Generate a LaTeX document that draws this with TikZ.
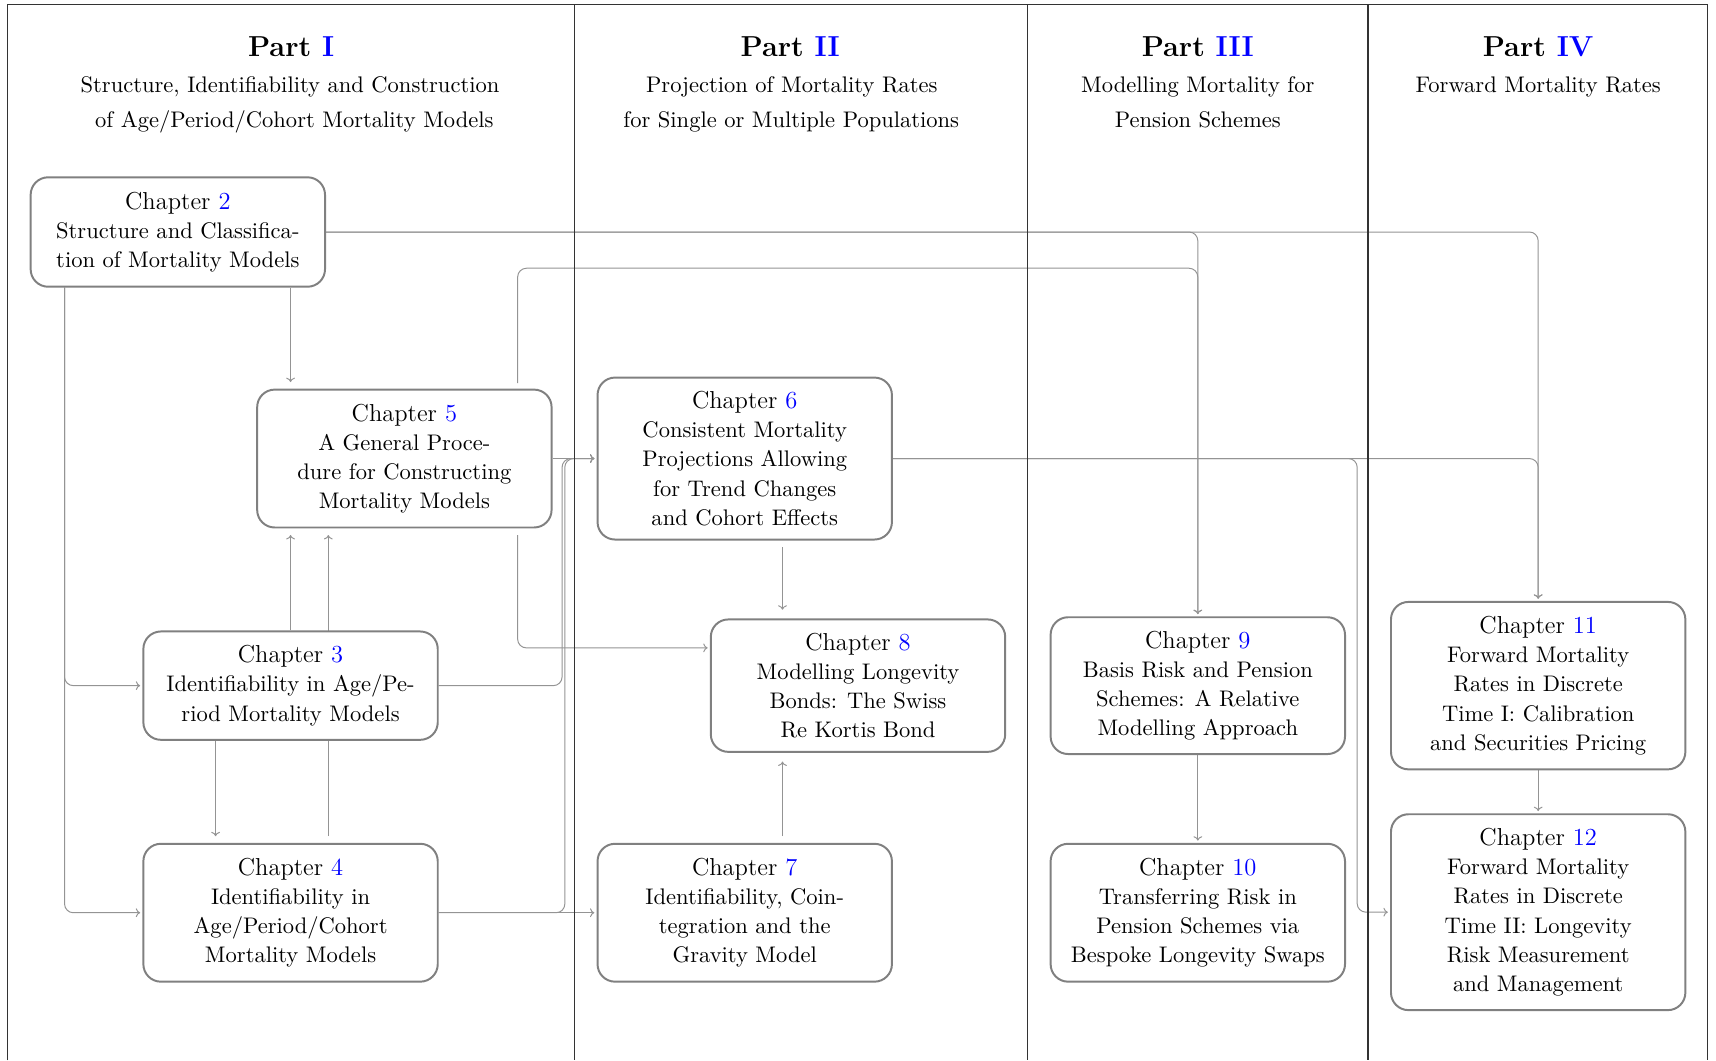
\documentclass[tikz,border=0pt]{standalone}
\usetikzlibrary{arrows.meta,calc}
\pgfdeclarelayer{background}
\pgfsetlayers{background,main}
\definecolor{boxgray}{gray}{0.5}
\definecolor{linegray}{gray}{0.58}
\definecolor{framegray}{gray}{0.2}
\definecolor{numblue}{rgb}{0,0,1}
\newcommand\chapline[1]{{\fontsize{11.2}{13.35}\selectfont Chapter \textcolor{numblue}{#1}}}
\begin{document}
\begin{tikzpicture}[x=0.5pt,y=-0.5pt,
  chap/.style={draw=boxgray, line width=0.9pt, rounded corners=8pt, fill=white,
    minimum width=134.5pt, align=center, inner sep=2pt,
    font=\fontsize{10.3}{13.35}\selectfont},
  conn/.style={draw=linegray, line width=0.45pt, rounded corners=4pt},
  arr/.style={conn, -{To[length=2pt,width=4pt]}},
  parttitle/.style={anchor=base, inner sep=0pt, font=\fontsize{13.2}{16}\selectfont\bfseries},
  subtitle/.style={anchor=base, inner sep=0pt, font=\fontsize{10.3}{16.5}\selectfont},
  divider/.style={draw=framegray, line width=0.5pt}
]
\useasboundingbox (0,0) rectangle (1568,969);

% frame and column dividers
\draw[divider] (7,969) -- (7,4) -- (1560,4) -- (1560,969);
\draw[divider] (525,4) -- (525,969);
\draw[divider] (939,4) -- (939,969);
\draw[divider] (1250,4) -- (1250,969);

% titles
\node[parttitle] (t1) at (266,51.5) {Part \textcolor{numblue}{I}};
\node[subtitle] (t1a) at (265,84.2) {Structure, Identifiability and Construction};
\node[subtitle] (t1b) at (269,116.7) {of Age/Period/Cohort Mortality Models};
\node[parttitle] (t2) at (722,51.5) {Part \textcolor{numblue}{II}};
\node[subtitle] (t2a) at (723.5,84.2) {Projection of Mortality Rates};
\node[subtitle] (t2b) at (723,116.7) {for Single or Multiple Populations};
\node[parttitle] (t3) at (1094.5,51.5) {Part \textcolor{numblue}{III}};
\node[subtitle] (t3a) at (1094.5,84.2) {Modelling Mortality for};
\node[subtitle] (t3b) at (1094.5,116.7) {Pension Schemes};
\node[parttitle] (t4) at (1405.5,51.5) {Part \textcolor{numblue}{IV}};
\node[subtitle] (t4a) at (1405.5,84.2) {Forward Mortality Rates};

% chapter boxes
\node[chap, minimum height=50pt] (ch2) at (162.5,212)
  {\chapline{2}\\Structure and Classifica-\\tion of Mortality Models};
\node[chap, minimum height=63pt] (ch5) at (369.5,419)
  {\chapline{5}\\A General Proce-\\dure for Constructing\\Mortality Models};
\node[chap, minimum height=49.5pt] (ch3) at (265.5,626.5)
  {\chapline{3}\\Identifiability in Age/Pe-\\riod Mortality Models};
\node[chap, minimum height=63pt] (ch4) at (265.5,834)
  {\chapline{4}\\Identifiability in\\Age/Period/Cohort\\Mortality Models};
\node[chap, minimum height=74pt] (ch6) at (680.5,419)
  {\chapline{6}\\Consistent Mortality\\Projections Allowing\\for Trend Changes\\and Cohort Effects};
\node[chap, minimum height=60.5pt] (ch8) at (784,626.5)
  {\chapline{8}\\Modelling Longevity\\Bonds: The Swiss\\Re Kortis Bond};
\node[chap, minimum height=63pt] (ch7) at (680.5,834)
  {\chapline{7}\\Identifiability, Coin-\\tegration and the\\Gravity Model};
\node[chap, minimum height=62.5pt] (ch9) at (1094.5,626.5)
  {\chapline{9}\\Basis Risk and Pension\\Schemes: A Relative\\Modelling Approach};
\node[chap, minimum height=63pt] (ch10) at (1094.5,834)
  {\chapline{10}\\Transferring Risk in\\Pension Schemes via\\Bespoke Longevity Swaps};
\node[chap, minimum height=76.5pt] (ch11) at (1405.5,626.5)
  {\chapline{11}\\Forward Mortality\\Rates in Discrete\\Time I: Calibration\\and Securities Pricing};
\node[chap, minimum height=89.5pt] (ch12) at (1405.5,833.5)
  {\chapline{12}\\Forward Mortality\\Rates in Discrete\\Time II: Longevity\\Risk Measurement\\and Management};

% routing helper coordinates
\coordinate (lvA) at ($(ch9.north)+(0,-318)$);
\coordinate (c5t) at ($(ch5.north)+(103.5,0)$);
\coordinate (c5b) at ($(ch5.south)+(103.5,0)$);
\coordinate (c2l) at ($(ch2.south)+(-103.5,0)$);
\coordinate (c4t) at ($(ch4.north)+(34.5,0)$);
\coordinate (c3b) at ($(ch3.south)+(-68.5,0)$);
\coordinate (k1) at ($(ch6.west)+(-31.5,0)$);
\coordinate (l1) at ($(ch6.west)+(-29,0)$);
\coordinate (n2) at ($(ch8.west)+(0,-34.5)$);
\coordinate (c6b) at ($(ch6.south)+(34.5,0)$);
\coordinate (c7t) at ($(ch7.north)+(34.5,0)$);
\coordinate (r1) at ($(ch12.west)+(-30,0)$);

\begin{pgfonlayer}{background}
% from chapter 2
\draw[arr, shorten >=1pt] (ch2.east) -| (ch9.north);
\draw[arr, shorten >=1pt] (ch2.east) -| (ch11.north);
\draw[arr, shorten >=3pt] (ch2.south -| ch3.north) -- (ch5.north -| ch3.north);
\draw[arr, shorten >=1pt] (c2l) |- (ch3.west);
\draw[arr, shorten >=1pt] (c2l) |- (ch4.west);
% from chapter 5
\draw[arr, shorten <=2.5pt, shorten >=1pt] (c5t) |- (lvA) -- (ch9.north);
\draw[arr, shorten >=1pt] (ch5.east) -- (ch6.west);
\draw[arr, shorten <=3pt, shorten >=1pt] (c5b) |- (n2);
% from chapter 3
\draw[arr, shorten >=3pt] (ch3.north) -- (ch3.north |- ch5.south);
\draw[arr, shorten >=3pt] (c3b) -- (c3b |- ch4.north);
\draw[arr, shorten >=1pt] (ch3.east) -| (k1) -- (ch6.west);
% from chapter 4
\draw[arr, shorten <=3pt, shorten >=3pt] (c4t) -- (c4t |- ch5.south);
\draw[arr, shorten >=1pt] (ch4.east) -| (l1) -- (ch6.west);
\draw[arr, shorten >=1pt] (ch4.east) -- (ch7.west);
% from chapters 6 and 7
\draw[arr, shorten <=3pt, shorten >=4pt] (c6b) -- (c6b |- ch8.north);
\draw[arr, shorten <=3pt, shorten >=4pt] (c7t) -- (c7t |- ch8.south);
\draw[arr, shorten >=1pt] (ch6.east) -| (ch11.north);
\draw[arr, shorten >=1pt] (ch6.east) -| (r1) -- (ch12.west);
% parts III and IV
\draw[arr, shorten >=1pt] (ch9.south) -- (ch10.north);
\draw[arr, shorten >=1pt] (ch11.south) -- (ch12.north);
\end{pgfonlayer}
\end{tikzpicture}
\end{document}
